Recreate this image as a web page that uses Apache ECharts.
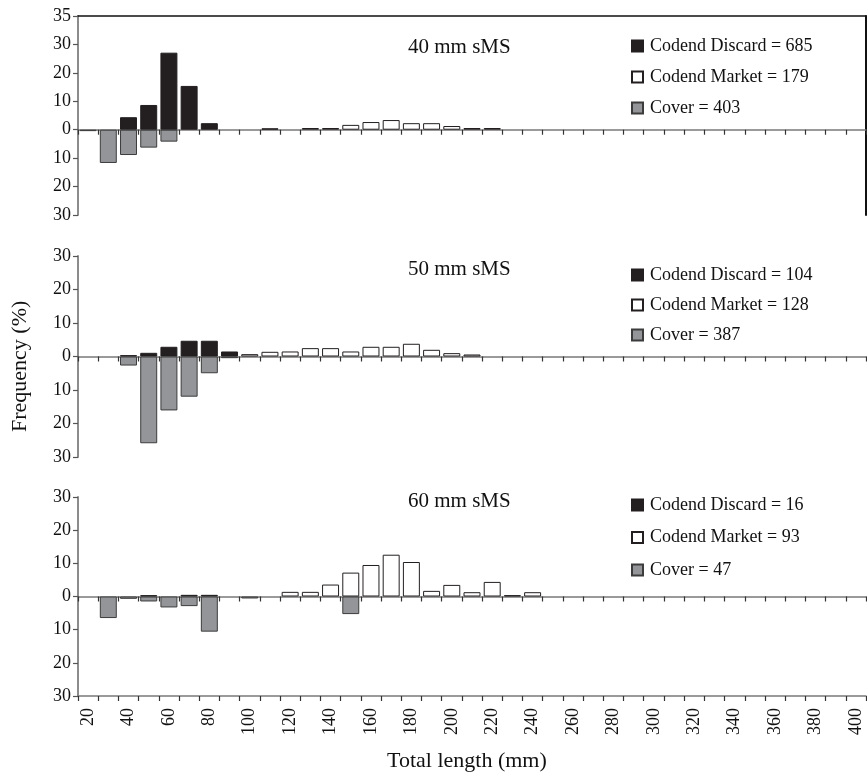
<!DOCTYPE html>
<html>
<head>
<meta charset="utf-8">
<script src="https://cdn.jsdelivr.net/npm/echarts@6/dist/echarts.min.js"></script>
<style>
html,body{margin:0;padding:0;background:#fff;}
#chart{width:867px;height:778px;}
</style>
</head>
<body>
<div id="chart"></div>
<script>
// Length classes (mm), categories of the x axis
const lengths = [20,30,40,50,60,70,80,90,100,110,120,130,140,150,160,170,180,190,200,210,220,230,240,
  250,260,270,280,290,300,310,320,330,340,350,360,370,380,390,400];

// Values (%), listed for 20..240 mm; cover values are drawn below the zero line
//                 20    30    40    50    60    70    80    90    100   110   120   130   140   150   160   170   180   190   200   210   220   230   240
const discard40 = [null, null, 4.4,  8.7,  27.1, 15.4, 2.3,  null, null, 0.5,  null, null, null, null, null, null, null, null, null, null, null, null, null];
const market40  = [null, null, null, null, null, null, null, null, null, null, null, 0.6,  0.6,  1.7,  2.7,  3.4,  2.3,  2.3,  1.3,  0.6,  0.6,  null, null];
const cover40   = [-0.5, -11.7,-8.9, -6.3, -4.2, null, null, null, null, null, null, null, null, null, null, null, null, null, null, null, null, null, null];

const discard50 = [null, null, 0.4,  1.1,  2.9,  4.7,  4.7,  1.5,  null, null, null, null, null, null, null, null, null, null, null, null, null, null, null];
const market50  = [null, null, null, null, null, null, null, null, 0.7,  1.4,  1.5,  2.5,  2.5,  1.5,  2.9,  2.9,  3.8,  2.0,  1.0,  0.6,  null, null, null];
const cover50   = [null, null, -2.7, -25.9,-16.1,-12.0,-5.0, -0.5, null, null, null, null, null, null, null, null, null, null, null, null, null, null, null];

const discard60 = [null, null, null, 0.4,  null, 0.5,  0.5,  null, null, null, null, null, null, null, null, null, null, null, null, null, null, 0.4,  null];
const market60  = [null, null, null, null, null, null, null, null, null, null, 1.4,  1.4,  3.6,  7.2,  9.5,  12.6, 10.4, 1.7,  3.5,  1.3,  4.4,  null, 1.3];
const cover60   = [null, -6.5, -0.7, -1.5, -3.3, -2.9, -10.6,null, -0.6, null, null, null, null, -5.3, null, null, null, null, null, null, null, null, null];

const panelTitles = ['40 mm sMS', '50 mm sMS', '60 mm sMS'];
const discardNames = ['Codend Discard = 685', 'Codend Discard = 104', 'Codend Discard = 16'];
const marketNames  = ['Codend Market = 179', 'Codend Market = 128', 'Codend Market = 93'];
const coverNames   = ['Cover = 403', 'Cover = 387', 'Cover = 47'];
const yTopLabel1 = '35';

const FONT = 'Liberation Serif';
const chart = echarts.init(document.getElementById('chart'));

const grids = [
  {left: 78, right: 1, top: 16, height: 199},
  {left: 78, right: 1, top: 256, height: 201},
  {left: 78, right: 1, top: 497, height: 199}
];

function zeroAxis(gi) {
  return {
    type: 'category', gridIndex: gi, data: lengths,
    boundaryGap: true,
    axisLine: {onZero: true, lineStyle: {color: '#7a7a7a', width: 1.5}},
    axisTick: {show: true, length: 5, interval: 0, lineStyle: {color: '#333', width: 1.2}},
    axisLabel: {show: false}, splitLine: {show: false}
  };
}

const xAxes = [
  zeroAxis(0),
  {type: 'category', gridIndex: 0, data: lengths, position: 'top',
   axisLine: {onZero: false, lineStyle: {color: '#111', width: 1.5}},
   axisTick: {show: false}, axisLabel: {show: false}, splitLine: {show: false}},
  zeroAxis(1),
  zeroAxis(2),
  {type: 'category', gridIndex: 2, data: lengths, position: 'bottom',
   axisLine: {onZero: false, lineStyle: {color: '#7a7a7a', width: 1.5}},
   axisTick: {show: true, length: 5, interval: 0, lineStyle: {color: '#333', width: 1.2}},
   axisLabel: {show: true, interval: 1, rotate: 90, margin: 12, color: '#111',
     fontFamily: FONT, fontSize: 18},
   splitLine: {show: false}}
];

function valAxis(gi, max, fmt) {
  return {
    type: 'value', gridIndex: gi, min: -30, max: max, interval: 10,
    axisLine: {show: true, lineStyle: {color: '#8c8c8c', width: 2}},
    axisTick: {show: true, length: 5, lineStyle: {color: '#555', width: 1.2}},
    axisLabel: {margin: 7, color: '#111', fontFamily: FONT, fontSize: 18, formatter: fmt},
    splitLine: {show: false}
  };
}

const yAxes = [
  valAxis(0, 40, v => v === 40 ? yTopLabel1 : String(Math.abs(v))),
  {type: 'value', gridIndex: 0, min: -30, max: 40, interval: 10, position: 'right',
   axisLine: {show: true, lineStyle: {color: '#111', width: 2}},
   axisTick: {show: false}, axisLabel: {show: false}, splitLine: {show: false}},
  valAxis(1, 30, v => String(Math.abs(v))),
  valAxis(2, 30, v => String(Math.abs(v)))
];

const discardStyle = {color: '#231f20', borderColor: '#231f20', borderWidth: 1};
const marketStyle = {color: '#ffffff', borderColor: '#231f20', borderWidth: 1};
const coverStyle = {color: '#939598', borderColor: '#3c3c3c', borderWidth: 1};

const panelData = [
  [discard40, market40, cover40],
  [discard50, market50, cover50],
  [discard60, market60, cover60]
];
const xIdx = [0, 2, 3];
const yIdx = [0, 2, 3];

const series = [];
panelData.forEach((arr, p) => {
  const names = [discardNames[p], marketNames[p], coverNames[p]];
  const styles = [discardStyle, marketStyle, coverStyle];
  arr.forEach((d, k) => {
    series.push({
      type: 'bar', name: names[k], xAxisIndex: xIdx[p], yAxisIndex: yIdx[p],
      stack: 'p' + p, data: d, barCategoryGap: '16%',
      itemStyle: styles[k], emphasis: {disabled: true}, animation: false
    });
  });
});

const legendTops = [31, 260, 490];
const legendGaps = [11, 10, 12.5];
const legends = panelData.map((_, p) => ({
  orient: 'vertical', left: 626, top: legendTops[p], itemGap: legendGaps[p],
  itemWidth: 11, itemHeight: 11, icon: 'rect', selectedMode: false,
  data: [discardNames[p], marketNames[p], coverNames[p]],
  textStyle: {fontFamily: FONT, fontSize: 18, color: '#111', lineHeight: 20, padding: [0, 0, 0, 2]}
}));

const titleTops = [37, 259, 491];
const titles = panelTitles.map((t, p) => ({
  text: t, left: 408, top: titleTops[p], padding: 0,
  textStyle: {fontFamily: FONT, fontSize: 21, fontWeight: 'normal', color: '#111'}
}));

chart.setOption({
  backgroundColor: '#fff',
  animation: false,
  title: titles,
  legend: legends,
  grid: grids,
  xAxis: xAxes,
  yAxis: yAxes,
  series: series,
  graphic: [
    {type: 'text', left: 'center', top: 750, style: {text: 'Total length (mm)', x: 0,
      font: '22px "Liberation Serif"', fill: '#111'}, left: 387},
    {type: 'text', x: 9, y: 432, rotation: Math.PI / 2,
      style: {text: 'Frequency (%)', font: '22px "Liberation Serif"', fill: '#111'}}
  ]
});
</script>
</body>
</html>
